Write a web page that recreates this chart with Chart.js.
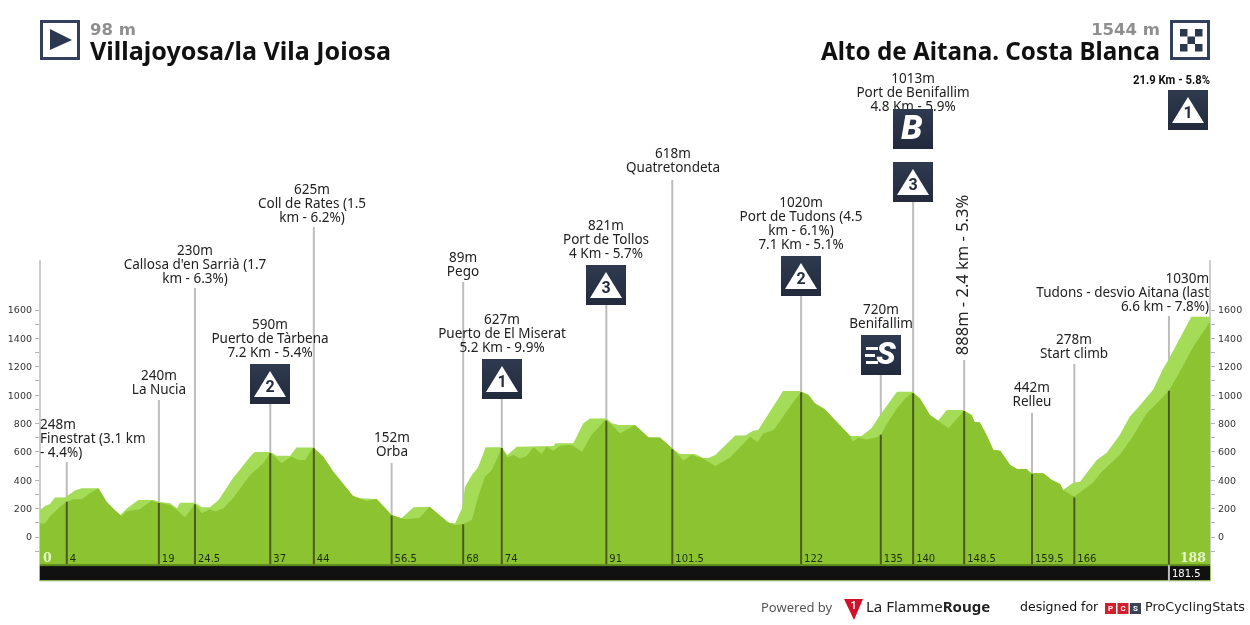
<!DOCTYPE html>
<html><head><meta charset="utf-8">
<style>html,body{margin:0;padding:0;background:#fff}canvas{display:block}</style>
<script src="https://cdn.jsdelivr.net/npm/chart.js@4"></script>
</head><body><canvas id="c" width="1250" height="625"></canvas>
<script>
// Upper (lighter) profile
const kmLight=[0,0.8,1.6,2.4,4,5.6,6.7,9.4,10.7,12,12.9,13.9,15.8,18.2,19.1,20.9,22,22.5,24.9,26,27.3,28.7,31,33.8,34.5,37,38,40.2,41.2,43.9,45.5,47.1,50.3,51.4,54.1,56.5,58.1,60,62.6,65.6,66.7,67.8,68.3,69.4,70.4,71.6,74.2,75.1,76.6,82.5,82.8,85.7,87.3,88.4,91,91.9,93,95.6,97.8,99.6,101.7,102.8,105.2,106.6,107.4,108.5,111.7,113.3,114.6,115.4,119.4,122.1,123.5,124.5,126.1,128,130.2,132,133.6,135,137.7,140.2,141.4,143,144.3,145.7,148.4,149.7,150.2,151,152.1,153.2,154.3,155.9,157,158.5,159.3,161.2,162.6,163.9,164.4,166,167.1,169.8,171.4,173.5,175.1,176.8,178.9,180.5,181.3,185,188];
const elevLight=[190,219,233,278,278,327,344,344,249,190,155,200,261,261,249,238,202,242,242,209,209,261,414,567,600,600,572,572,630,630,567,461,289,273,268,155,132,209,214,103,96,202,355,437,491,632,632,578,637,641,660,660,801,836,836,801,789,789,702,702,620,585,585,557,557,578,716,716,749,754,1029,1029,1001,942,900,813,712,712,766,860,1024,1024,977,860,820,895,895,860,808,808,719,613,608,507,479,479,449,449,402,373,331,383,390,543,594,719,848,930,1041,1189,1247,1553,1553];
// Main (darker) profile
const kmMain=[0,0.8,1.6,3.2,4.3,5.4,6.7,8,9.4,10.7,12,13.1,13.9,16,17.9,19.1,20.9,22,23.3,24.9,26,27.3,28.1,29.5,31,33.8,35.9,37,38.8,40.4,41.5,42.6,43.9,45.5,47.1,50.3,52.5,54.1,56.5,58.1,58.9,61,62.6,65.6,66.7,68,69.4,70.4,71.5,72.6,74.2,75.1,76.1,77.1,78.2,79.3,80.6,81.4,82.5,83.6,85.4,87.1,88.6,90.8,91.9,93.2,95.6,97.8,99.6,101.7,103.4,104.7,106.6,108.5,110.9,114.1,115.3,116.2,117.9,120.5,122.3,123.5,124.5,126.1,128,130.2,130.6,131.5,132.8,134.4,135.1,136.3,137.7,139,140.2,141.4,143,144.3,146,148.4,149.7,150.2,151,152.1,153.2,154.3,155.9,157,158.5,159.3,161.2,162.6,163.9,164.4,166.2,167.6,169.2,170.6,173.5,175.4,177.8,179.7,181.4,183,185.3,188];
const elevMain=[96,96,144,214,249,266,266,308,344,249,190,148,179,195,254,242,226,190,139,233,167,195,179,202,273,438,520,595,520,567,543,543,630,567,461,289,254,268,155,132,125,135,214,103,85,92,120,284,425,472,625,561,578,554,571,632,585,637,608,643,648,601,719,825,789,730,789,702,702,620,538,578,552,500,561,707,667,730,754,918,1024,1001,942,900,813,712,672,702,688,702,719,813,907,977,1017,977,860,820,766,888,860,808,808,719,613,608,507,479,479,449,449,402,373,331,284,331,383,460,578,695,871,954,1031,1153,1341,1517];
// Waypoints
const markerKm=[4.3,19.1,24.9,37,44,56.5,68,74.2,91,101.6,122.3,135.1,140.3,148.5,159.4,166.2,181.4];
const markerElev=[248,240,230,590,625,152,89,627,821,618,1020,720,1013,888,442,278,1030];
const markerKmText=['4','19','24.5','37','44','56.5','68','74','91','101.5','122','135','140','148.5','159.5','166','181.5'];
const markerText=[
 ["248m","Finestrat (3.1 km","- 4.4%)"],
 ["240m","La Nucia"],
 ["230m","Callosa d'en Sarrià (1.7","km - 6.3%)"],
 ["590m","Puerto de Tàrbena","7.2 Km - 5.4%"],
 ["625m","Coll de Rates (1.5","km - 6.2%)"],
 ["152m","Orba"],
 ["89m","Pego"],
 ["627m","Puerto de El Miserat","5.2 Km - 9.9%"],
 ["821m","Port de Tollos","4 Km - 5.7%"],
 ["618m","Quatretondeta"],
 ["1020m","Port de Tudons (4.5","km - 6.1%)","7.1 Km - 5.1%"],
 ["720m","Benifallim"],
 ["1013m","Port de Benifallim","4.8 Km - 5.9%"],
 ["888m - 2.4 km - 5.3%"],
 ["442m","Relleu"],
 ["278m","Start climb"],
 ["1030m","Tudons - desvio Aitana (last","6.6 km - 7.8%)"]
];
const startElev='98 m', startName='Villajoyosa/la Vila Joiosa';
const finishElev='1544 m', finishName='Alto de Aitana. Costa Blanca';
const finalClimb='21.9 Km - 5.8%';
const totalKm=188;

// Layout only
const textLayout=[ // x centre, y of first line, gray line top, alignment
 [40,424,462,'left'],[159,375,400],[195,250,288],[270,324,404],[312,189,227],[392,437,463],[463,257,282],
 [502,319,359],[606,225,265],[673,153,180],[801,202,256],[881,309,335],[913,78,162],[963,275,360,'rot'],
 [1032,387,413],[1074,339,364],[1209,278,316,'right']];
const icons=[['2',270,364],['1',502,359],['3',606,265],['2',801,256],['S',881,335],['B',913,109],['3',913,162],['1',1188,90]];
const FONT='"Noto Sans"';
const yPerPx=1600/227, yMin=-(581-537)*yPerPx, yMax=537*yPerPx;
const pts=(a,b)=>a.map((v,i)=>({x:v,y:b[i]}));
const BASE=-198;

const markerSets=markerKm.map((k,i)=>({type:'line',data:[{x:k,y:markerElev[i]},{x:k,y:BASE}],borderColor:'#4b5a24',borderWidth:2,pointRadius:0,fill:false,order:1}));

function iconBox(ctx,x,y){
  const g=ctx.createLinearGradient(0,y,0,y+40);g.addColorStop(0,'#2f3a50');g.addColorStop(1,'#222a3c');
  ctx.fillStyle=g;ctx.fillRect(x,y,40,40);
}
function drawIcon(ctx,t,cx,y){
  const x=cx-20;iconBox(ctx,x,y);ctx.fillStyle='#fff';ctx.textAlign='center';ctx.textBaseline='middle';
  if(t==='S'||t==='B'){
    if(t==='S'){ctx.fillRect(x+5,y+12,12,3);ctx.fillRect(x+4,y+19,10,3);ctx.fillRect(x+5,y+26,12,3);
      ctx.font='italic 900 32px Roboto';ctx.fillText('S',x+25,y+21);}
    else{ctx.font='italic 900 34px Roboto';ctx.fillText('B',x+19,y+21);}
    return;
  }
  ctx.beginPath();ctx.moveTo(x+20,y+7);ctx.lineTo(x+36,y+33);ctx.lineTo(x+4,y+33);ctx.closePath();ctx.fill();
  ctx.fillStyle='#252d40';ctx.font='bold 16px Roboto';ctx.fillText(t,x+20,y+24);
}
function fitText(ctx,s,left,base,width){
  const w=ctx.measureText(s).width;ctx.save();ctx.textAlign='left';ctx.translate(left,base);ctx.scale(width/w,1);ctx.fillText(s,0,0);ctx.restore();
}

const overlay={id:'overlay',
 beforeDatasetsDraw(ch){ // gray stems above the terrain
  const {ctx,scales:{x,y}}=ch;ctx.save();ctx.strokeStyle='#bdbdbd';ctx.lineWidth=2;
  markerKm.forEach((k,i)=>{const px=x.getPixelForValue(k);ctx.beginPath();ctx.moveTo(px,textLayout[i][2]);ctx.lineTo(px,y.getPixelForValue(markerElev[i]));ctx.stroke();});
  ctx.restore();
 },
 afterDatasetsDraw(ch){
  const {ctx,scales:{x,y}}=ch;ctx.save();
  // black strip
  const L=x.getPixelForValue(0),R=x.getPixelForValue(totalKm),T=y.getPixelForValue(BASE);
  ctx.fillStyle='#111';ctx.fillRect(L,T,R-L,16);
  ctx.fillStyle='#5d8a1e';ctx.fillRect(L,T-1,R-L,2);
  ctx.fillStyle='#a3c468';ctx.fillRect(L,T+15,R-L,1);ctx.fillRect(L-1,T,1,16);ctx.fillRect(R,T,1,16);
  // km labels
  ctx.textBaseline='middle';ctx.textAlign='left';ctx.font='10px "DejaVu Sans"';
  markerKm.forEach((k,i)=>{
    const px=x.getPixelForValue(k);
    if(i===markerKm.length-1){ctx.fillStyle='#bdbdbd';ctx.fillRect(px-1,T,2,16);ctx.fillStyle='#fff';ctx.fillText(markerKmText[i],px+3,T+9);}
    else{ctx.fillStyle='#1e2d10';ctx.fillText(markerKmText[i],px+3,T-5.5);}
  });
  ctx.font='bold 12.5px "DejaVu Serif"';ctx.fillStyle='#e6f5c8';
  ctx.textAlign='left';ctx.fillText('0',L+3,T-6);
  ctx.textAlign='right';ctx.fillText(String(totalKm),R-4,T-6);
  // waypoint texts
  ctx.fillStyle='#222';ctx.font='13.5px '+FONT;
  markerText.forEach((lines,i)=>{
    const [tx,ty,,mode]=textLayout[i];
    if(mode==='rot'){ctx.save();ctx.font='16.5px '+FONT;ctx.translate(tx,ty);ctx.rotate(-Math.PI/2);ctx.textAlign='center';ctx.fillText(lines[0],0,0);ctx.restore();return;}
    ctx.textAlign=mode||'center';
    lines.forEach((s,j)=>ctx.fillText(s,tx,ty+1+j*14));
  });
  icons.forEach(a=>drawIcon(ctx,a[0],a[1],a[2]));
  ctx.fillStyle='#111';ctx.font='bold 12px Roboto';fitText(ctx,finalClimb,1133,81,77);
  // header
  ctx.textAlign='left';ctx.textBaseline='alphabetic';
  ctx.fillStyle='#8f8f8f';ctx.font='bold 16.5px "DejaVu Sans"';ctx.fillText(startElev,90,35);
  ctx.fillStyle='#111';ctx.font='bold 24.5px "Noto Sans"';fitText(ctx,startName,90,60,301);
  ctx.textAlign='right';
  ctx.fillStyle='#8f8f8f';ctx.font='bold 16.5px "DejaVu Sans"';ctx.fillText(finishElev,1160,35);
  ctx.fillStyle='#111';ctx.font='bold 24.5px "Noto Sans"';fitText(ctx,finishName,821,60,339);
  ctx.textAlign='left';
  ctx.strokeStyle='#33405a';ctx.lineWidth=3;ctx.strokeRect(41.5,21.5,37,37);ctx.strokeRect(1171.5,21.5,37,37);
  ctx.fillStyle='#2c3850';ctx.beginPath();ctx.moveTo(50,29);ctx.lineTo(72,40);ctx.lineTo(50,50);ctx.closePath();ctx.fill();
  for(let r=0;r<3;r++)for(let c=0;c<3;c++)if((r+c)%2===0)ctx.fillRect(1180+c*7.5,29+r*7.5,7.5,7.5);
  // footer
  ctx.textBaseline='middle';ctx.textAlign='left';
  ctx.fillStyle='#555';ctx.font='13px '+FONT;ctx.fillText('Powered by',761,608);
  ctx.fillStyle='#d0112b';ctx.beginPath();ctx.moveTo(844,599);ctx.lineTo(863,599);ctx.lineTo(854,620);ctx.closePath();ctx.fill();
  ctx.fillStyle='#fff';ctx.font='bold 10px Roboto';ctx.textAlign='center';ctx.fillText('1',853.5,606);
  ctx.textAlign='left';ctx.fillStyle='#222';ctx.font='15px '+FONT;ctx.fillText('La Flamme',866,608);
  const w=ctx.measureText('La Flamme').width;ctx.font='bold 15px '+FONT;ctx.fillText('Rouge',866+w,608);
  ctx.fillStyle='#111';ctx.font='12.5px "DejaVu Sans"';ctx.fillText('designed for',1020,608);
  [['P','#d0202e',1105],['C','#d0202e',1117.5],['S','#3a4450',1130]].forEach(b=>{ctx.fillStyle=b[1];ctx.fillRect(b[2],603,11,11);ctx.fillStyle='#fff';ctx.font='bold 8px Roboto';ctx.textAlign='center';ctx.fillText(b[0],b[2]+5.5,609);});
  ctx.textAlign='left';ctx.fillStyle='#222';ctx.font='12.8px "DejaVu Sans"';ctx.fillText('ProCyclingStats',1145,608);
  ctx.restore();
 }};

const axisOpts={min:yMin,max:yMax,border:{display:false},
  grid:{drawOnChartArea:false,drawTicks:true,tickLength:5,color:'#b5b5b5',lineWidth:1},
  afterBuildTicks(a){const t=[];for(let v=-100;v<=1600;v+=100)t.push({value:v});a.ticks=t;},
  ticks:{autoSkip:false,padding:3,labelOffset:1,maxRotation:0,color:'#333',font:{family:'"DejaVu Sans"',size:9.5},
    callback:v=>(v>=0&&v%200===0)?String(v):''},
  afterFit(a){a.width=40;a.paddingTop=0;a.paddingBottom=0;}};

new Chart(document.getElementById('c'),{
 type:'line',
 data:{datasets:[
  {data:pts(kmMain,elevMain),borderWidth:0,pointRadius:0,tension:0,fill:{value:BASE},backgroundColor:'#8bc430',order:3},
  {data:pts(kmLight,elevLight),borderWidth:0,pointRadius:0,tension:0,fill:{value:BASE},backgroundColor:'#a4dc58',order:4},
  {data:[{x:0,y:BASE},{x:0,y:1951}],borderColor:'#cccccc',borderWidth:2,pointRadius:0,fill:false,order:5,clip:false},
  {data:[{x:totalKm,y:BASE},{x:totalKm,y:1951}],borderColor:'#cccccc',borderWidth:2,pointRadius:0,fill:false,order:5,clip:false},
  ...markerSets
 ]},
 options:{responsive:false,animation:false,parsing:false,normalized:true,
  layout:{padding:{top:0,bottom:44,left:0,right:0}},
  plugins:{legend:{display:false},tooltip:{enabled:false},title:{display:false}},
  scales:{
   x:{type:'linear',min:0,max:totalKm,display:false},
   y:{...axisOpts,position:'left'},
   y2:{...axisOpts,axis:'y',position:'right'}
  }},
 plugins:[overlay]
});
</script></body></html>
